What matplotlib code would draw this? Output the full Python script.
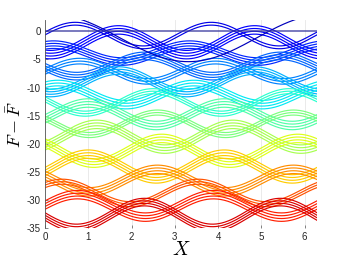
import numpy as np
import matplotlib
matplotlib.use("Agg")
import matplotlib.pyplot as plt

plt.rcParams['font.family'] = ['Liberation Sans', 'DejaVu Sans']
plt.rcParams['mathtext.fontset'] = 'cm'
plt.rcParams['axes.unicode_minus'] = False

# bundles of nearly parallel curves
# level = middle value, amp = half peak-to-valley, peak = x of a crest,
# count = lines in the bundle, gap = vertical distance between them
levels = [-1.2, -0.5, -3.2, -5.5, -6.6, -8.3, -10.5, -12.2, -14.0, -16.0, -18.0, -20.5, -23.3, -25.8, -28.3, -30.3, -32.0]
amps   = [2.2, 2.1, 1.5, 1.8, 1.8, 2.0, 1.8, 2.0, 2.0, 2.0, 2.2, 2.2, 2.2, 2.0, 2.0, 2.0, 2.3]
peaks  = [1.7, 0.7, 0.2, 2.3, 0.8, 1.7, 0.3, 2.5, 1.0, 2.6, 1.2, 2.7, 1.0, 2.6, 0.4, 0.75, 2.3]
counts = [4, 2, 4, 4, 3, 4, 4, 3, 4, 3, 4, 4, 4, 4, 3, 4, 4]
gaps   = [0.5, 0.5, 0.45, 0.45, 0.5, 0.45, 0.5, 0.45, 0.5, 0.45, 0.5, 0.5, 0.5, 0.5, 0.45, 0.5, 0.45]

# long-period curve crossing the top edge
steep_level, steep_amp, steep_peak = -1.2, 4.2, 0.17

x = np.linspace(0, 2 * np.pi, 400)
cmap = plt.get_cmap('jet_r')
norm = plt.Normalize(-35, 3)

fig = plt.figure(figsize=(3.51, 2.64), dpi=100)
ax = fig.add_axes([0.128, 0.136, 0.775, 0.788])

for c, a, p, n, g in zip(levels, amps, peaks, counts, gaps):
    for k in range(n):
        y = c - k * g + a * np.cos(2 * (x - p))
        ax.plot(x, y, color=cmap(norm(c)), lw=0.85)

ax.plot(x, steep_level + steep_amp * np.cos(x - steep_peak), color=cmap(norm(1)), lw=0.85)
ax.plot(x, np.zeros_like(x), color='#3a3aa0', lw=1.2, alpha=0.8)

ax.set_xlim(0, 2 * np.pi)
ax.set_ylim(-35, 2)
ax.set_xticks(range(0, 7))
ax.set_yticks(range(-35, 1, 5))
ax.grid(axis='x', color='#e6e6e6', lw=0.6)
ax.set_axisbelow(True)
for s in ['top', 'right', 'bottom']:
    ax.spines[s].set_visible(False)
ax.spines['left'].set_color('#555555')
ax.spines['left'].set_linewidth(0.6)
ax.tick_params(direction='in', length=2, width=0.5, colors='#555555', labelsize=7, labelcolor='#262626', pad=3)

ax.set_xlabel(r'$X$', fontsize=14, labelpad=-1)
ax.set_ylabel(r'$F-\bar{F}$', fontsize=13, labelpad=1)

fig.savefig('out.png', dpi=100)
